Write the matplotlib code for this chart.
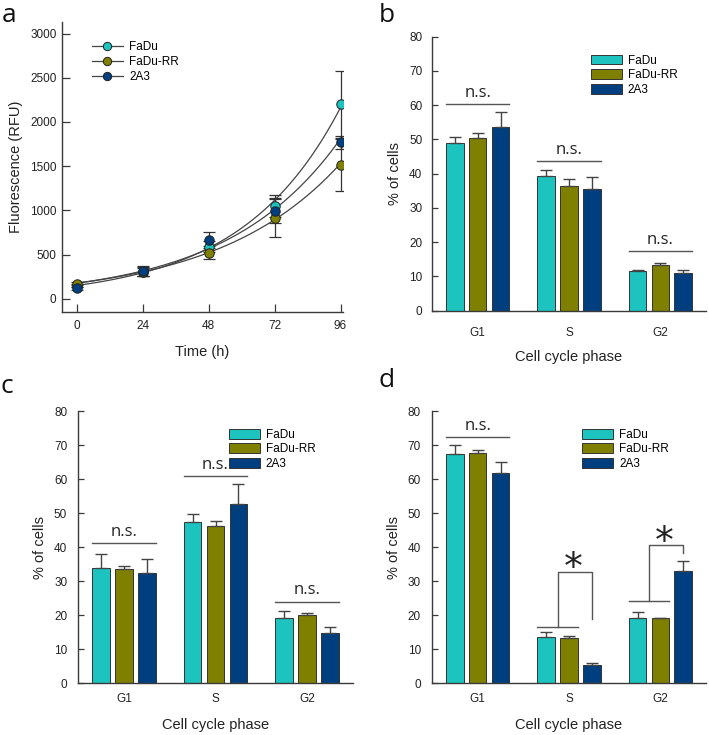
import numpy as np
import matplotlib.pyplot as plt

plt.rcParams['font.family'] = ['Liberation Sans', 'DejaVu Sans']

# colours of the three cell lines
colores = ['#1cc3bf', '#808000', '#003f7f']
lineas = ['FaDu', 'FaDu-RR', '2A3']

# Panel a: fluorescence over time
tiempo = [0, 24, 48, 72, 96]
fadu_rfu = [150, 310, 590, 1050, 2200]
fadurr_rfu = [175, 305, 522, 918, 1515]
a2a3_rfu = [120, 315, 666, 997, 1770]
fadu_err = [20, 55, 60, 125, 380]
fadurr_err = [20, 50, 74, 215, 290]
a2a3_err = [20, 55, 87, 140, 75]

# Panels b, c, d: cell cycle phases
fases = ['G1', 'S', 'G2']
b_vals = [[48.9, 39.4, 11.7], [50.3, 36.5, 13.2], [53.7, 35.5, 10.9]]
b_errs = [[1.7, 1.6, 0.2], [1.5, 1.9, 0.8], [4.4, 3.6, 1.0]]
c_vals = [[33.8, 47.3, 19.1], [33.6, 46.3, 20.1], [32.4, 52.7, 14.9]]
c_errs = [[4.1, 2.4, 2.2], [1.0, 1.4, 0.5], [4.1, 5.9, 1.6]]
d_vals = [[67.4, 13.6, 19.3], [67.8, 13.3, 19.2], [61.7, 5.5, 33.0]]
d_errs = [[2.7, 1.4, 1.7], [0.7, 0.6, 0.1], [3.2, 0.4, 2.9]]

# n.s. line heights per panel (None = no n.s.)
b_ns = [60.3, 43.6, 17.3]
c_ns = [41.1, 60.8, 24.0]
d_ns = [72.3, None, None]

gris = '#3a3a3a'

fig = plt.figure(figsize=(7.09, 7.35), dpi=100)
W, H = 709, 735


def ejes(x0, x1, ytop, ybot):
    return fig.add_axes([x0 / W, 1 - ybot / H, (x1 - x0) / W, (ybot - ytop) / H])


def estilo(ax):
    for s in ['top', 'right']:
        ax.spines[s].set_visible(False)
    for s in ['left', 'bottom']:
        ax.spines[s].set_color(gris)
        ax.spines[s].set_linewidth(1.0)


# ---------- panel a ----------
ax = ejes(62, 343, 22, 312)
estilo(ax)
t = np.array(tiempo, dtype=float)
tt = np.linspace(0, 96, 200)
for y, e, col, nom in zip([fadu_rfu, fadurr_rfu, a2a3_rfu],
                          [fadu_err, fadurr_err, a2a3_err], colores, lineas):
    y = np.array(y, dtype=float)
    b, a = np.polyfit(t, np.log(y), 1, w=np.sqrt(y))
    ax.plot(tt, np.exp(a) * np.exp(b * tt), color='#444444', lw=0.9, zorder=2)
    ax.errorbar(t, y, yerr=e, fmt='none', ecolor='#333333', elinewidth=0.9,
                capsize=4, capthick=0.9, zorder=3)
    ax.plot(t, y, 'o', ms=6.8, mfc=col, mec='#222222', mew=0.7, zorder=4)
    ax.plot([], [], '-o', color='#444444', lw=0.9, ms=6, mfc=col, mec='#222222',
            mew=0.7, label=nom)
ax.set_xlim(-5.3, 96.9)
ax.set_ylim(-147, 3130)
ax.set_xticks(tiempo)
ax.set_yticks([0, 500, 1000, 1500, 2000, 2500, 3000])
ax.tick_params(direction='in', length=6, width=0.9, color=gris, labelsize=8.5,
               labelcolor='#222222')
ax.tick_params(axis='x', pad=6)
ax.tick_params(axis='y', pad=4)
ax.set_xlabel('Time (h)', fontsize=10.5, labelpad=9, color='#222222')
ax.set_ylabel('Fluorescence (RFU)', fontsize=10.5, labelpad=5, color='#222222')
ax.legend(loc='upper left', bbox_to_anchor=(0.105, 0.935), frameon=False,
          fontsize=8.5, handlelength=2.7, handletextpad=0.5, labelspacing=0.25,
          borderpad=0, borderaxespad=0)


# ---------- bar panels ----------
def barras(ax, vals, errs, ns, ley_x, ley_y, pad_x, pad_y, lab_y):
    estilo(ax)
    x = np.arange(len(fases))
    for i in range(3):
        ax.bar(x + (i - 1) * 0.25, vals[i], width=0.19, color=colores[i],
               edgecolor='#333333', linewidth=0.7, label=lineas[i], zorder=2)
        ax.errorbar(x + (i - 1) * 0.25, vals[i], yerr=[np.zeros(3), errs[i]],
                    fmt='none', ecolor='#444444', elinewidth=1.0, capsize=4,
                    capthick=1.0, zorder=3)
    for k, h in enumerate(ns):
        if h is None:
            continue
        ax.plot([k - 0.345, k + 0.345], [h, h], color='#555555', lw=1.0)
        ax.text(k, h + 1.0, 'n.s.', ha='center', va='bottom', fontsize=12,
                family=['Open Sans', 'DejaVu Sans'], color='#222222')
    ax.set_xlim(-0.5, 2.5)
    ax.set_ylim(0, 80)
    ax.set_xticks(x)
    ax.set_xticklabels(fases)
    ax.set_yticks(range(0, 81, 10))
    ax.tick_params(direction='in', width=0.9, color=gris, labelsize=8.5,
                   labelcolor='#222222')
    ax.tick_params(axis='x', length=0, pad=pad_x)
    ax.tick_params(axis='y', length=4, pad=pad_y)
    ax.set_xlabel('Cell cycle phase', fontsize=10.5, labelpad=lab_y, color='#222222')
    ax.set_ylabel('% of cells', fontsize=10.5, labelpad=5, color='#222222')
    ax.legend(loc='upper left', bbox_to_anchor=(ley_x, ley_y), frameon=False,
              fontsize=8.5, handlelength=2.6, handleheight=0.9, handletextpad=0.5,
              labelspacing=0.22, borderpad=0, borderaxespad=0)


axb = ejes(432, 706, 36.7, 310.7)
barras(axb, b_vals, b_errs, b_ns, 0.58, 0.935, 12, 7, 8)

axc = ejes(78.3, 352.7, 411, 683.3)
barras(axc, c_vals, c_errs, c_ns, 0.549, 0.935, 7, 8, 9)

axd = ejes(432, 706, 411, 683.3)
barras(axd, d_vals, d_errs, d_ns, 0.549, 0.935, 7, 8, 9)

# significance brackets in panel d
for k, (base, alto, fin) in zip([1, 2], [(16.4, 32.7, 19.0), (24.3, 40.5, 38.2)]):
    axd.plot([k - 0.345, k + 0.095], [base, base], color='#555555', lw=1.0)
    axd.plot([k - 0.125, k - 0.125, k + 0.25, k + 0.25], [base, alto, alto, fin],
             color='#555555', lw=1.0)
    axd.text(k + 0.045, alto - 4.5, '*', ha='center', va='bottom', fontsize=27,
             family=['DejaVu Sans'], color='#222222')

# panel letters
for letra, xl, yl in [('a', 2, 22), ('b', 379, 22), ('c', 1, 393), ('d', 379, 387)]:
    fig.text(xl / W, 1 - yl / H, letra, fontsize=19, va='baseline', ha='left',
             family=['Open Sans', 'DejaVu Sans'], color='#111111')

fig.savefig('out.png', dpi=100)
